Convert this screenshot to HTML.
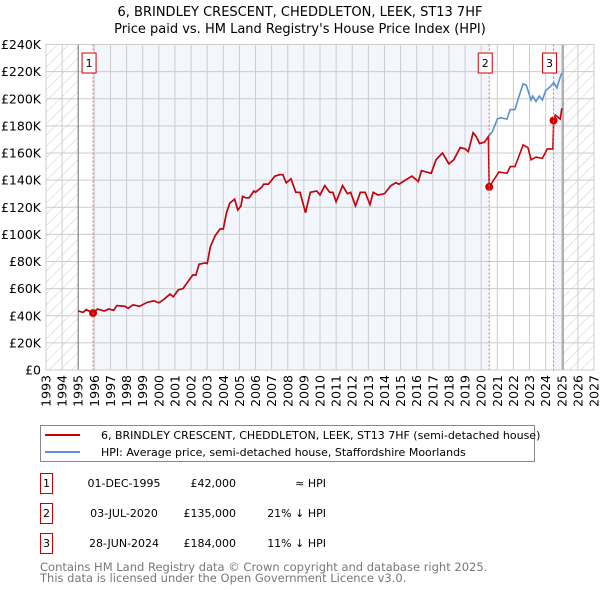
<!DOCTYPE html>
<html><head><meta charset="utf-8"><style>
body{margin:0;background:#fff;font-family:"Liberation Sans","DejaVu Sans",sans-serif;}
#wrap{position:relative;width:600px;height:590px;overflow:hidden;}
svg text{font-family:"DejaVu Sans","Liberation Sans",sans-serif;}
.ft{position:absolute;left:40px;font-size:11.5px;color:#777;line-height:11px;font-family:"DejaVu Sans",sans-serif;}
</style></head><body>
<div id="wrap">
<svg id="chart" width="600" height="590">
<defs><pattern id="hatch" width="8" height="8" patternUnits="userSpaceOnUse" patternTransform="rotate(45)"><line x1="0" y1="0" x2="0" y2="8" stroke="#ccc" stroke-width="1"/></pattern></defs>
<text x="300" y="16" text-anchor="middle" font-size="13">6, BRINDLEY CRESCENT, CHEDDLETON, LEEK, ST13 7HF</text>
<text x="300" y="33" text-anchor="middle" font-size="13">Price paid vs. HM Land Registry's House Price Index (HPI)</text>
<g id="bg"></g><g id="grid"></g><g id="axes"></g><g id="series"></g><g id="marks"></g>
<rect x="40.5" y="425.5" width="494" height="36" fill="#fff" stroke="#888"/>
<line x1="45" y1="435" x2="80" y2="435" stroke="#cc0000" stroke-width="2"/>
<text x="101" y="439" font-size="11">6, BRINDLEY CRESCENT, CHEDDLETON, LEEK, ST13 7HF (semi-detached house)</text>
<line x1="45" y1="452" x2="80" y2="452" stroke="#5b8fd4" stroke-width="2"/>
<text x="101" y="456" font-size="11">HPI: Average price, semi-detached house, Staffordshire Moorlands</text>
<g id="table" font-size="11"></g>
</svg>
<div class="ft" style="top:562px">Contains HM Land Registry data © Crown copyright and database right 2025.</div>
<div class="ft" style="top:573px">This data is licensed under the Open Government Licence v3.0.</div>
</div>
<script>
const priceYears=[1995.0,1995.3,1995.5,1995.92,1996.2,1996.6,1996.9,1997.2,1997.4,1997.9,1998.1,1998.4,1998.8,1999.3,1999.7,2000.0,2000.3,2000.7,2000.9,2001.2,2001.5,2001.8,2002.1,2002.3,2002.5,2002.9,2003.0,2003.2,2003.5,2003.8,2004.0,2004.2,2004.4,2004.7,2004.9,2005.1,2005.2,2005.4,2005.6,2005.9,2006.0,2006.4,2006.5,2006.8,2007.2,2007.5,2007.7,2007.9,2008.2,2008.5,2008.76,2009.1,2009.4,2009.8,2010.0,2010.3,2010.6,2010.8,2011.0,2011.4,2011.7,2011.9,2012.2,2012.5,2012.8,2013.1,2013.3,2013.6,2014.0,2014.4,2014.7,2014.9,2015.3,2015.7,2016.1,2016.3,2016.6,2016.9,2017.2,2017.6,2017.7,2018.0,2018.3,2018.7,2019.0,2019.2,2019.5,2019.7,2019.9,2020.2,2020.45,2020.5,2021.1,2021.6,2021.8,2022.1,2022.6,2022.9,2023.1,2023.4,2023.8,2024.1,2024.45,2024.5,2024.6,2024.9,2025.0];
const priceValues=[43.5,42.5,44.5,42,45,43.5,45,44,47.5,47,45.5,48,47,50,51,49.5,52,56,54,59,60,65,70,70,78,79,78.5,91,99,104,104,116,123,126,118,121,128,127,127,132,131,135,137,137,143,144,144,138,141,131,131,116,131,132,129,136,131,131,124,136,130,131,121,131,131,122,131,129,130,136,138,137,140,143,139,147,146,145,155,160,158,152,155,164,163,161,175,172,167,168,172,135,146,145,150,150,166,164,155,157,156,163,163,184,188,185,193];
const hpiYears=[1995.0,1995.3,1995.5,1995.92,1996.2,1996.6,1996.9,1997.2,1997.4,1997.9,1998.1,1998.4,1998.8,1999.3,1999.7,2000.0,2000.3,2000.7,2000.9,2001.2,2001.5,2001.8,2002.1,2002.3,2002.5,2002.9,2003.0,2003.2,2003.5,2003.8,2004.0,2004.2,2004.4,2004.7,2004.9,2005.1,2005.2,2005.4,2005.6,2005.9,2006.0,2006.4,2006.5,2006.8,2007.2,2007.5,2007.7,2007.9,2008.2,2008.5,2008.76,2009.1,2009.4,2009.8,2010.0,2010.3,2010.6,2010.8,2011.0,2011.4,2011.7,2011.9,2012.2,2012.5,2012.8,2013.1,2013.3,2013.6,2014.0,2014.4,2014.7,2014.9,2015.3,2015.7,2016.1,2016.3,2016.6,2016.9,2017.2,2017.6,2017.7,2018.0,2018.3,2018.7,2019.0,2019.2,2019.5,2019.7,2019.9,2020.2,2020.45,2020.7,2021.0,2021.2,2021.6,2021.8,2022.1,2022.3,2022.6,2022.8,2023.1,2023.2,2023.4,2023.6,2023.8,2024.0,2024.3,2024.5,2024.7,2024.9,2025.0];
const hpiValues=[43.5,42.5,44.5,42,45,43.5,45,44,47.5,47,45.5,48,47,50,51,49.5,52,56,54,59,60,65,70,70,78,79,78.5,91,99,104,104,116,123,126,118,121,128,127,127,132,131,135,137,137,143,144,144,138,141,131,131,116,131,132,129,136,131,131,124,136,130,131,121,131,131,122,131,129,130,136,138,137,140,143,139,147,146,145,155,160,158,152,155,164,163,161,175,172,167,168,172,176,185,186,185,192,192,200,211,210,199,202,198,202,199,206,209,212,208,216,219];
const saleYears=[1995.92,2020.5,2024.49];
const saleValues=[42,135,184];
const saleLabels=["1","2","3"];
const saleDates=["01-DEC-1995","03-JUL-2020","28-JUN-2024"];
const salePrices=["£42,000","£135,000","£184,000"];
const saleHpi=["≈ HPI","21% ↓ HPI","11% ↓ HPI"];
const yTicks=[0,20,40,60,80,100,120,140,160,180,200,220,240];
const xTicks=[1993,1994,1995,1996,1997,1998,1999,2000,2001,2002,2003,2004,2005,2006,2007,2008,2009,2010,2011,2012,2013,2014,2015,2016,2017,2018,2019,2020,2021,2022,2023,2024,2025,2026,2027];

const X0=46,X1=594,Y0=370,Y1=44.5;
const xs=y=>X0+(y-1993)/(2027-1993)*(X1-X0);
const ys=v=>Y0-v/240*(Y0-Y1);
const NS="http://www.w3.org/2000/svg";
function mk(parent,tag,attrs){const e=document.createElementNS(NS,tag);for(const k in attrs)e.setAttribute(k,attrs[k]);document.getElementById(parent).appendChild(e);return e;}

let e;
e=mk('bg','rect',{x:X0,y:Y1,width:X1-X0,height:Y0-Y1,fill:'#fff'});


e=mk('bg','rect',{x:xs(saleYears[0]),y:Y1,width:xs(saleYears[1])-xs(saleYears[0]),height:Y0-Y1,fill:'#f3f6fd'});


e=mk('bg','rect',{x:xs(saleYears[2]),y:Y1,width:xs(2025.08)-xs(saleYears[2]),height:Y0-Y1,fill:'#f3f6fd'});


e=mk('bg','rect',{x:X0,y:Y1,width:xs(1995)-X0,height:Y0-Y1,fill:'url(#hatch)'});


e=mk('bg','rect',{x:xs(2025.08),y:Y1,width:X1-xs(2025.08),height:Y0-Y1,fill:'url(#hatch)'});



yTicks.forEach(v=>{
  e=mk('grid','line',{x1:X0,x2:X1,y1:ys(v),y2:ys(v),stroke:'#ccc','stroke-width':1});
  
  
  e=mk('axes','text',{x:41,y:ys(v)+4.5,'text-anchor':'end','font-size':12.5});
  e.textContent=v===0?'£0':'£'+v+'K';
  
  
});
xTicks.forEach(y=>{
  e=mk('grid','line',{x1:xs(y),x2:xs(y),y1:Y1,y2:Y0,stroke:'#ccc','stroke-width':1});
  
  
  e=mk('axes','text',{x:0,y:0,'font-size':12.5,'text-anchor':'end',transform:`translate(${xs(y)+4.5},375) rotate(-90)`});
  e.textContent=y;
  
  
});
[1995,2025.08].forEach(y=>{
  e=mk('grid','line',{x1:xs(y),x2:xs(y),y1:Y1,y2:Y0,stroke:'#888','stroke-width':1.2});
  
  
});
e=mk('grid','rect',{x:X0,y:Y1,width:X1-X0,height:Y0-Y1,fill:'none',stroke:'#ccc'});



saleYears.forEach((y,i)=>{
  e=mk('marks','line',{x1:xs(y),x2:xs(y),y1:Y1,y2:Y0,stroke:'#e66','stroke-width':1,'stroke-dasharray':'2,2'});
  
  
  e=mk('marks','rect',{x:xs(y)-11,y:53,width:14,height:20,fill:'#fff',stroke:'#c00'});
  
  
  e=mk('marks','text',{x:xs(y)-4,y:67,'text-anchor':'middle','font-size':11});
  e.textContent=saleLabels[i];
  
  
});

const path=(xa,va)=>xa.map((y,i)=>(i?'L':'M')+xs(y).toFixed(1)+','+ys(va[i]).toFixed(1)).join(' ');
e=mk('series','path',{d:path(hpiYears,hpiValues),fill:'none',stroke:'#5b8fd4','stroke-width':1.6});


e=mk('series','path',{d:path(priceYears,priceValues),fill:'none',stroke:'#cc0000','stroke-width':1.6});


saleYears.forEach((y,i)=>{
  e=mk('series','circle',{cx:xs(y),cy:ys(saleValues[i]),r:4,fill:'#cc0000'});
  
  
});

saleYears.forEach((y,i)=>{
  const ry=473+i*30;
  e=mk('table','rect',{x:40.5,y:ry+0.5,width:12,height:20,fill:'#fff',stroke:'#c00'});
  
  
  e=mk('table','text',{x:46.5,y:ry+14,'text-anchor':'middle'});
  e.textContent=saleLabels[i];
  
  
  e=mk('table','text',{x:124,y:ry+14,'text-anchor':'middle'});
  e.textContent=saleDates[i];
  
  
  e=mk('table','text',{x:236,y:ry+14,'text-anchor':'end'});
  e.textContent=salePrices[i];
  
  
  e=mk('table','text',{x:326,y:ry+14,'text-anchor':'end'});
  e.textContent=saleHpi[i];
  
  
});
</script>
</body></html>
